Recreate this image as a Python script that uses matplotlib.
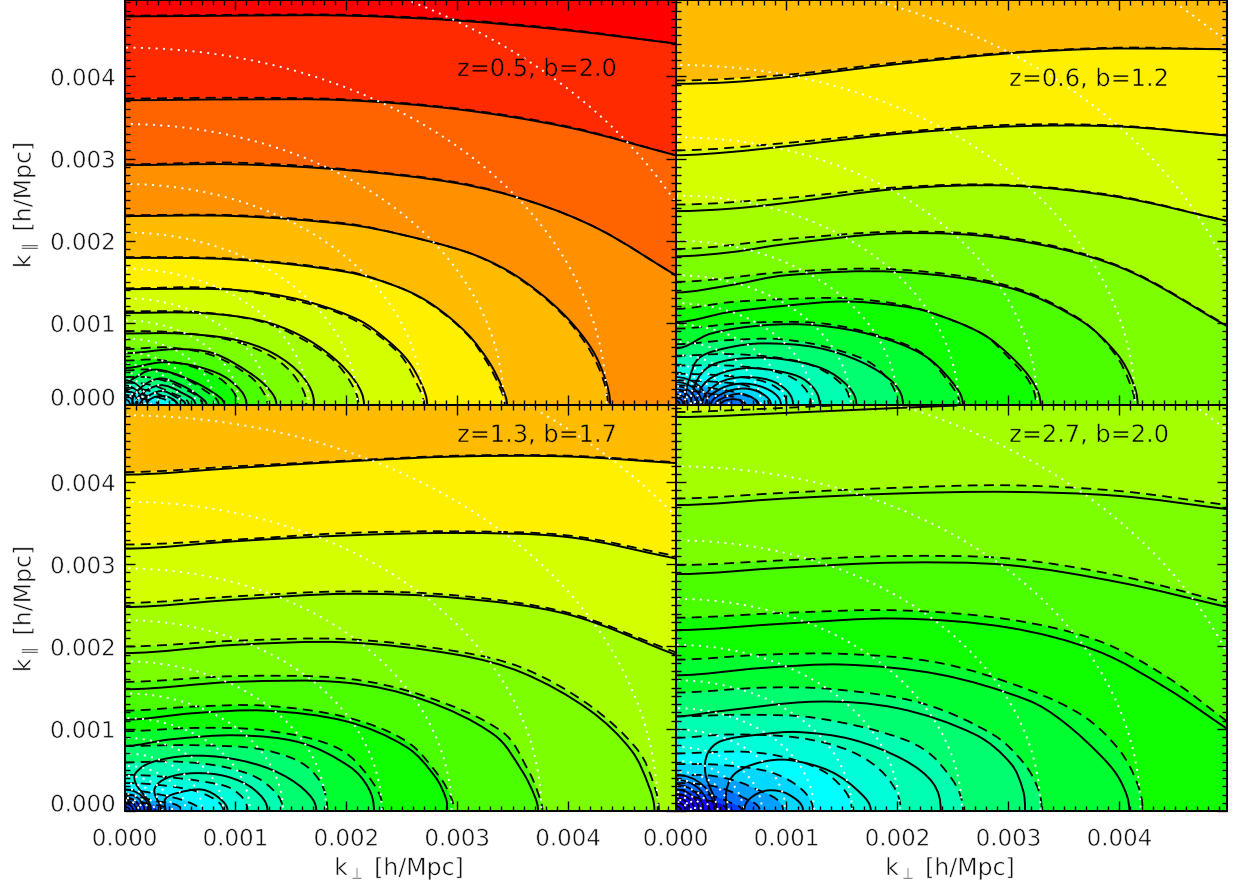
"""Four-panel 2D power spectrum contours, k_perp vs k_par.

Curves are read off the reference, in units of 1e-3 h/Mpc. Each curve is
(k_perp list, k_par list), listed from the outermost inwards.
"""
import numpy as np
import matplotlib
matplotlib.use("Agg")
import matplotlib.pyplot as plt
import matplotlib.patheffects as patheffects
from matplotlib.patches import PathPatch, Circle, Ellipse
from matplotlib.path import Path
from matplotlib.transforms import ScaledTranslation

W, H = 1237, 892
XMAX, YMAX = 4.97, 4.93

band_colors = ["#ff0000", "#ff2a00", "#ff6400", "#ff9000", "#ffbb00", "#fff000",
               "#d4ff00", "#a4ff00", "#7cff00", "#4cff00", "#10ff00", "#00ff30",
               "#00ff70", "#00ffb0", "#00ffd8", "#00ffff", "#00d8ff", "#00a0ff",
               "#0070ff", "#0040ff", "#1800ff", "#3000c0"]

tick_values = [0, 1, 2, 3, 4]
tick_labels = ["0.000", "0.001", "0.002", "0.003", "0.004"]

# ---- z=0.5, b=2.0
p1_label = "z=0.5, b=2.0"
p1_first_band = 0
p1_text_bg = "#ff2a00"
p1_dotted = [5.55, 4.35, 3.42, 2.69, 2.10, 1.66, 1.30, 1.03, 0.81, 0.64, 0.50,
             0.39, 0.31, 0.24, 0.19, 0.15, 0.12]
p1_inner_x = [0.20, 0.16, 0.12, 0.08, 0.05]
p1_inner_y = [0.30, 0.24, 0.18, 0.12, 0.07]
p1_solid = [
    ([0, 1, 2, 3, 4, 4.97], [4.73, 4.74, 4.74, 4.68, 4.56, 4.40]),
    ([0, 1, 2, 3, 4, 4.97], [3.71, 3.72, 3.71, 3.60, 3.38, 3.04]),
    ([0, 1, 2, 3, 3.68, 4.28, 4.97], [2.92, 2.93, 2.86, 2.70, 2.47, 2.14, 1.58]),
    ([0, 1, 2, 2.48, 3.09, 3.45, 3.74, 4.0, 4.22, 4.34, 4.38],
     [2.30, 2.30, 2.20, 2.08, 1.86, 1.64, 1.37, 1.05, 0.67, 0.30, 0]),
    ([0, 1, 2, 2.48, 2.78, 3.09, 3.29, 3.41, 3.45],
     [1.79, 1.77, 1.62, 1.43, 1.22, 0.87, 0.52, 0.20, 0]),
    ([0, 0.86, 1.28, 1.7, 2.12, 2.36, 2.55, 2.68, 2.73],
     [1.41, 1.41, 1.36, 1.24, 1.03, 0.80, 0.55, 0.25, 0]),
    ([0, 0.68, 1.22, 1.58, 1.88, 2.09, 2.16], [1.12, 1.12, 1.03, 0.85, 0.58, 0.27, 0]),
    ([0, 0.5, 0.98, 1.34, 1.61, 1.71], [0.87, 0.87, 0.80, 0.63, 0.34, 0]),
    ([0, 0.47, 0.8, 1.13, 1.31, 1.37], [0.63, 0.68, 0.63, 0.39, 0.18, 0]),
    ([0, 0.35, 0.68, 0.95, 1.1], [0.45, 0.52, 0.46, 0.30, 0]),
    ([0.05, 0.26, 0.53, 0.8, 0.9], [0.30, 0.43, 0.34, 0.15, 0]),
    ([0.07, 0.1, 0.3, 0.5, 0.68, 0.74], [0, 0.15, 0.32, 0.25, 0.10, 0]),
    ([0.1, 0.14, 0.32, 0.5, 0.64], [0, 0.12, 0.24, 0.16, 0]),
    ([0.14, 0.18, 0.33, 0.46, 0.55], [0, 0.08, 0.17, 0.10, 0]),
    ([0.2, 0.33, 0.47], [0, 0.11, 0]),
]
p1_dashed = [
    ([0, 1, 2, 3, 4, 4.97], [4.74, 4.75, 4.75, 4.69, 4.57, 4.40]),
    ([0, 1, 2, 3, 4, 4.97], [3.73, 3.74, 3.72, 3.61, 3.39, 3.04]),
    ([0, 1, 2, 3, 3.68, 4.28, 4.97], [2.93, 2.95, 2.87, 2.71, 2.47, 2.14, 1.58]),
    ([0, 1, 2, 2.48, 3.09, 3.45, 3.74, 4.0, 4.20, 4.32, 4.36],
     [2.31, 2.31, 2.21, 2.08, 1.86, 1.63, 1.36, 1.03, 0.66, 0.30, 0]),
    ([0, 1, 2, 2.48, 2.78, 3.09, 3.27, 3.39, 3.43],
     [1.80, 1.78, 1.63, 1.43, 1.21, 0.86, 0.52, 0.20, 0]),
    ([0, 0.86, 1.7, 2.12, 2.48, 2.64, 2.70], [1.42, 1.42, 1.22, 1.00, 0.62, 0.25, 0]),
    ([0, 0.68, 1.22, 1.58, 1.88, 2.05, 2.11], [1.14, 1.13, 1.02, 0.82, 0.55, 0.25, 0]),
    ([0, 0.5, 0.98, 1.34, 1.55, 1.64], [0.90, 0.88, 0.78, 0.58, 0.32, 0]),
    ([0, 0.4, 0.8, 1.13, 1.25, 1.29], [0.68, 0.70, 0.60, 0.35, 0.16, 0]),
    ([0, 0.3, 0.65, 0.9, 1.02], [0.54, 0.55, 0.45, 0.28, 0]),
    ([0, 0.25, 0.5, 0.72, 0.85], [0.42, 0.43, 0.35, 0.18, 0]),
    ([0, 0.25, 0.5, 0.70], [0.34, 0.33, 0.22, 0]),
    ([0, 0.22, 0.42, 0.58], [0.27, 0.25, 0.15, 0]),
    ([0, 0.2, 0.36, 0.48], [0.21, 0.18, 0.10, 0]),
    ([0, 0.18, 0.40], [0.16, 0.12, 0]),
    ([0, 0.15, 0.30], [0.12, 0.08, 0]),
]

# ---- z=0.6, b=1.2
p2_label = "z=0.6, b=1.2"
p2_first_band = 4
p2_text_bg = "#fff000"
p2_dotted = [6.65, 5.24, 4.14, 3.26, 2.55, 2.00, 1.58, 1.24, 0.98, 0.77, 0.61,
             0.48, 0.38, 0.30, 0.23, 0.18, 0.14, 0.11]
p2_inner_x = [0.29, 0.24, 0.19, 0.15, 0.11, 0.07, 0.04]
p2_inner_y = [0.34, 0.28, 0.23, 0.18, 0.13, 0.09, 0.05]
p2_solid = [
    ([0, 0.5, 1, 1.5, 2, 2.5, 3, 3.5, 4, 4.97], [3.91, 3.93, 3.99, 4.07, 4.15, 4.22, 4.28, 4.32, 4.34, 4.33]),
    ([0, 0.5, 1, 2, 3, 4, 4.97], [3.04, 3.08, 3.15, 3.30, 3.39, 3.39, 3.28]),
    ([0, 0.5, 1, 2, 3, 4, 4.97], [2.36, 2.39, 2.46, 2.63, 2.67, 2.53, 2.24]),
    ([0, 0.5, 1, 2, 3, 4, 4.97], [1.81, 1.86, 1.96, 2.09, 2.02, 1.68, 0.96]),
    ([0, 0.5, 1, 2, 3, 3.65, 3.98, 4.12, 4.165], [1.37, 1.46, 1.58, 1.62, 1.43, 1.03, 0.62, 0.28, 0]),
    ([0, 0.48, 1, 1.52, 2, 2.29, 2.76, 3.03, 3.22, 3.29],
     [1.01, 1.13, 1.21, 1.26, 1.21, 1.13, 0.87, 0.58, 0.28, 0]),
    ([0, 0.32, 0.79, 1.27, 1.78, 2.22, 2.48, 2.59], [0.69, 0.87, 0.97, 0.97, 0.85, 0.62, 0.30, 0]),
    ([0.08, 0.13, 0.22, 0.48, 0.79, 1.27, 1.68, 1.97, 2.05], [0, 0.34, 0.58, 0.70, 0.75, 0.70, 0.52, 0.26, 0]),
    ([0.14, 0.21, 0.35, 0.63, 0.95, 1.33, 1.56, 1.63], [0, 0.34, 0.50, 0.57, 0.56, 0.44, 0.22, 0]),
    ([0.19, 0.29, 0.57, 0.89, 1.17, 1.30], [0, 0.30, 0.44, 0.42, 0.30, 0]),
    ([0.24, 0.38, 0.63, 0.92, 1.06], [0, 0.26, 0.34, 0.26, 0]),
    ([0.27, 0.41, 0.63, 0.86, 0.95], [0, 0.20, 0.26, 0.17, 0]),
    ([0.32, 0.44, 0.63, 0.79, 0.86], [0, 0.15, 0.20, 0.13, 0]),
    ([0.36, 0.48, 0.62, 0.74], [0, 0.11, 0.13, 0]),
    ([0.41, 0.52, 0.63], [0, 0.07, 0]),
]
p2_dashed = [
    ([0, 1, 2, 3, 4, 4.97], [3.95, 4.02, 4.17, 4.29, 4.35, 4.33]),
    ([0, 1, 2, 3, 4, 4.97], [3.10, 3.19, 3.32, 3.41, 3.40, 3.28]),
    ([0, 1, 2, 3, 4, 4.97], [2.44, 2.52, 2.65, 2.68, 2.54, 2.24]),
    ([0, 1, 2, 3, 4, 4.97], [1.90, 2.02, 2.11, 2.04, 1.69, 0.97]),
    ([0, 1, 2, 3, 3.65, 3.96, 4.09, 4.14], [1.50, 1.62, 1.65, 1.45, 1.04, 0.62, 0.28, 0]),
    ([0, 0.48, 1, 1.52, 2, 2.29, 2.76, 3.00, 3.19, 3.25],
     [1.17, 1.25, 1.29, 1.30, 1.23, 1.13, 0.87, 0.58, 0.28, 0]),
    ([0, 0.63, 1.27, 1.71, 2.19, 2.45, 2.56], [0.93, 1.00, 1.00, 0.89, 0.66, 0.30, 0]),
    ([0, 0.48, 0.95, 1.43, 1.81, 2.00], [0.74, 0.79, 0.80, 0.68, 0.46, 0]),
    ([0, 0.48, 0.95, 1.27, 1.52, 1.57], [0.60, 0.62, 0.57, 0.46, 0.22, 0]),
    ([0, 0.48, 0.86, 1.11, 1.22], [0.48, 0.48, 0.42, 0.28, 0]),
    ([0, 0.41, 0.76, 0.95, 1.00], [0.38, 0.36, 0.30, 0.17, 0]),
    ([0, 0.38, 0.67, 0.84], [0.30, 0.28, 0.22, 0]),
    ([0, 0.35, 0.60, 0.75], [0.24, 0.20, 0.13, 0]),
    ([0, 0.3, 0.60], [0.18, 0.14, 0]),
]

# ---- z=1.3, b=1.7
p3_label = "z=1.3, b=1.7"
p3_first_band = 4
p3_text_bg = "#ffbb00"
p3_dotted = [6.13, 4.81, 3.76, 2.95, 2.32, 1.82, 1.43, 1.13, 0.89, 0.70, 0.55,
             0.43, 0.34, 0.27, 0.21, 0.16, 0.13]
p3_inner_x = [0.22, 0.18, 0.14, 0.11, 0.08, 0.05]
p3_inner_y = [0.26, 0.21, 0.17, 0.13, 0.09, 0.05]
p3_solid = [
    ([0, 1, 2, 3, 4, 4.97], [4.09, 4.17, 4.25, 4.31, 4.31, 4.23]),
    ([0, 1, 2, 3, 4, 4.97], [3.19, 3.28, 3.35, 3.38, 3.33, 3.07]),
    ([0, 1, 2, 3, 4, 4.97], [2.48, 2.57, 2.64, 2.59, 2.39, 1.90]),
    ([0, 1, 2, 3, 3.59, 4.19, 4.57, 4.73, 4.78], [1.92, 2.02, 2.05, 1.90, 1.68, 1.23, 0.74, 0.30, 0]),
    ([0, 1, 2, 2.7, 3.33, 3.58, 3.70, 3.73], [1.48, 1.57, 1.56, 1.35, 0.93, 0.50, 0.18, 0]),
    ([0, 0.63, 1.27, 2, 2.54, 2.80, 2.90, 2.91], [1.11, 1.19, 1.22, 1.09, 0.78, 0.42, 0.15, 0]),
    ([0, 0.41, 1.02, 1.59, 2.03, 2.20, 2.25], [0.79, 0.87, 0.92, 0.83, 0.54, 0.28, 0]),
    ([0.24, 0.10, 0.10, 0.24, 0.57, 0.95, 1.33, 1.62, 1.73],
     [0, 0.34, 0.46, 0.59, 0.67, 0.64, 0.50, 0.26, 0]),
    ([0.33, 0.27, 0.38, 0.63, 0.92, 1.17, 1.29], [0, 0.26, 0.40, 0.46, 0.42, 0.26, 0]),
    ([0.37, 0.37, 0.48, 0.70, 0.86, 0.93], [0, 0.15, 0.22, 0.26, 0.15, 0]),
]
p3_dashed = [
    ([0, 1, 2, 3, 4, 4.97], [4.12, 4.19, 4.26, 4.32, 4.32, 4.24]),
    ([0, 1, 2, 3, 4, 4.97], [3.24, 3.30, 3.38, 3.40, 3.35, 3.10]),
    ([0, 1, 2, 3, 4, 4.97], [2.53, 2.61, 2.67, 2.62, 2.41, 1.93]),
    ([0, 1, 2, 3, 3.59, 4.19, 4.63, 4.78, 4.82], [2.00, 2.07, 2.09, 1.94, 1.74, 1.29, 0.74, 0.30, 0]),
    ([0, 1, 2, 2.7, 3.4, 3.64, 3.74, 3.77], [1.57, 1.64, 1.61, 1.40, 0.97, 0.50, 0.18, 0]),
    ([0, 0.63, 1.27, 2, 2.54, 2.84, 2.95, 2.97], [1.22, 1.27, 1.28, 1.14, 0.85, 0.42, 0.15, 0]),
    ([0, 0.63, 1.27, 1.9, 2.20, 2.33], [0.97, 1.01, 0.98, 0.78, 0.42, 0]),
    ([0, 0.63, 1.27, 1.68, 1.83], [0.79, 0.80, 0.74, 0.50, 0]),
    ([0, 0.48, 0.95, 1.27, 1.43], [0.59, 0.60, 0.52, 0.34, 0]),
    ([0, 0.32, 0.70, 0.98, 1.11], [0.44, 0.42, 0.36, 0.26, 0]),
    ([0, 0.41, 0.73, 0.89], [0.34, 0.30, 0.20, 0]),
    ([0, 0.32, 0.57, 0.68], [0.26, 0.20, 0.11, 0]),
    ([0, 0.25, 0.51], [0.20, 0.13, 0]),
    ([0, 0.2, 0.38], [0.15, 0.09, 0]),
    ([0, 0.28], [0.10, 0]),
]

# ---- z=2.7, b=2.0
p4_label = "z=2.7, b=2.0"
p4_first_band = 6
p4_text_bg = "#a4ff00"
p4_dotted = [6.79, 5.33, 4.19, 3.29, 2.58, 2.02, 1.59, 1.25, 0.99, 0.78, 0.61,
             0.48, 0.38, 0.30, 0.23, 0.18, 0.14, 0.11]
p4_inner_x = [0.35, 0.30, 0.25, 0.21, 0.17, 0.13, 0.09, 0.05]
p4_inner_y = [0.44, 0.38, 0.32, 0.26, 0.21, 0.16, 0.11, 0.06]
p4_solid = [
    ([0, 1, 2, 2.54], [4.79, 4.84, 4.90, 4.93]),
    ([0, 1, 2, 3, 4, 4.97], [3.72, 3.80, 3.86, 3.88, 3.83, 3.67]),
    ([0, 1, 2, 3, 4, 4.97], [2.88, 2.96, 3.02, 2.99, 2.78, 2.48]),
    ([0, 1, 2, 3, 3.81, 4.44, 4.97], [2.20, 2.28, 2.34, 2.23, 1.94, 1.48, 1.00]),
    ([0, 0.79, 1.52, 2.38, 3.17, 3.49, 3.87, 4.02, 4.09], [1.65, 1.74, 1.78, 1.66, 1.35, 1.09, 0.62, 0.34, 0]),
    ([0, 0.38, 1.27, 2, 2.7, 3.02, 3.13, 3.15], [1.15, 1.21, 1.33, 1.25, 0.93, 0.58, 0.26, 0]),
    ([0.37, 0.27, 0.29, 0.41, 0.76, 1.10, 1.59, 2.06, 2.32, 2.39],
     [0, 0.45, 0.70, 0.85, 0.93, 0.96, 0.87, 0.62, 0.34, 0]),
    ([0.46, 0.46, 0.54, 0.76, 1.02, 1.40, 1.68, 1.76], [0, 0.26, 0.46, 0.59, 0.62, 0.48, 0.20, 0]),
    ([0.62, 0.67, 0.83, 1.02, 1.15], [0, 0.15, 0.25, 0.20, 0]),
]
p4_dashed = [
    ([0, 0.63, 1.27, 1.43], [4.85, 4.88, 4.92, 4.93]),
    ([0, 1, 2, 3, 4, 4.97], [3.80, 3.87, 3.93, 3.96, 3.89, 3.72]),
    ([0, 1, 2, 3, 4, 4.97], [2.99, 3.05, 3.10, 3.07, 2.86, 2.53]),
    ([0, 1, 2, 3, 3.81, 4.44, 4.97], [2.35, 2.41, 2.44, 2.33, 2.07, 1.62, 1.09]),
    ([0, 0.79, 1.52, 2.38, 3.17, 3.68, 4.0, 4.16, 4.21], [1.84, 1.90, 1.91, 1.80, 1.48, 1.15, 0.74, 0.34, 0]),
    ([0, 0.79, 1.43, 2.22, 2.86, 3.14, 3.27, 3.30], [1.44, 1.50, 1.48, 1.31, 0.93, 0.58, 0.26, 0]),
    ([0, 0.63, 1.27, 2.06, 2.38, 2.59], [1.15, 1.17, 1.13, 0.87, 0.58, 0]),
    ([0, 0.48, 1.11, 1.59, 1.90, 2.03], [0.89, 0.93, 0.89, 0.72, 0.42, 0]),
    ([0, 0.63, 1.05, 1.40, 1.59], [0.70, 0.72, 0.63, 0.42, 0]),
    ([0, 0.41, 0.86, 1.14, 1.24], [0.57, 0.56, 0.47, 0.26, 0]),
    ([0, 0.32, 0.67, 0.97], [0.43, 0.43, 0.30, 0]),
    ([0, 0.35, 0.60, 0.76], [0.34, 0.30, 0.17, 0]),
    ([0, 0.29, 0.48, 0.60], [0.26, 0.20, 0.11, 0]),
    ([0, 0.22, 0.46], [0.20, 0.15, 0]),
]


def smooth_path(xs, ys):
    """Bezier path through the read points, so the curves have no kinks."""
    pts = np.column_stack([xs, ys]) * 1e-3
    n = len(pts)
    verts = [pts[0]]
    codes = [Path.MOVETO]
    for i in range(n - 1):
        seg = np.linalg.norm(pts[i + 1] - pts[i])
        t0 = pts[i + 1] - pts[max(i - 1, 0)]
        t1 = pts[min(i + 2, n - 1)] - pts[i]
        t0 = t0 / max(np.linalg.norm(t0), 1e-12)
        t1 = t1 / max(np.linalg.norm(t1), 1e-12)
        h0 = h1 = seg / 3
        # contours meet the axes square on
        if i == 0 and ys[0] == 0:
            t0, h0 = np.array([0.0, 1.0]), seg * 0.4
        elif i == 0 and xs[0] == 0:
            t0 = np.array([1.0, 0.0])
        if i == n - 2 and ys[-1] == 0:
            t1, h1 = np.array([0.0, -1.0]), seg * 0.4
        verts += [pts[i] + t0 * h0, pts[i + 1] - t1 * h1, pts[i + 1]]
        codes += [Path.CURVE4] * 3
    return verts, codes


def thin(text, background):
    # the original labels are hairline vector glyphs; eat into the DejaVu outline
    text.set_path_effects([patheffects.Stroke(linewidth=0.4, foreground=background)])


def draw_panel(ax, first_band, dotted, inner_x, inner_y, solid, dashed):
    ax.set_facecolor(band_colors[first_band])

    # fill bands follow the dashed curves, painted outside to inside
    for i, (xs, ys) in enumerate(dashed):
        verts, codes = smooth_path(xs, ys)
        lo, hi = -1e-3, 6e-3
        last_y = ys[-1] * 1e-3
        verts += [(hi, last_y), (hi, lo), (lo, lo), (lo, ys[0] * 1e-3), verts[0]]
        codes += [Path.LINETO] * 4 + [Path.CLOSEPOLY]
        ax.add_patch(PathPatch(Path(verts, codes), facecolor=band_colors[first_band + i + 1],
                               edgecolor="none", lw=0, zorder=1))

    for xs, ys in dashed:
        verts, codes = smooth_path(xs, ys)
        ax.add_patch(PathPatch(Path(verts, codes), fill=False, edgecolor="black", lw=1.3,
                               ls=(0, (5.5, 3.5)), zorder=1.5))
    for xs, ys in solid:
        verts, codes = smooth_path(xs, ys)
        ax.add_patch(PathPatch(Path(verts, codes), fill=False, edgecolor="black", lw=1.4,
                               zorder=1.6))
    for rx, ry in zip(inner_x, inner_y):
        ax.add_patch(Ellipse((0, 0), 2e-3 * rx, 2e-3 * ry, fill=False, edgecolor="black",
                             lw=1.2, zorder=1.6))
    for r in dotted:
        ax.add_patch(Circle((0, 0), r * 1e-3, fill=False, edgecolor="white", lw=1.4,
                            ls=(0, (1, 2.8)), zorder=1.8))

    ax.set_xlim(0, XMAX * 1e-3)
    ax.set_ylim(0, YMAX * 1e-3)
    ax.set_axisbelow(False)
    ticks = np.array(tick_values) * 1e-3
    ax.set_xticks(ticks)
    ax.set_yticks(ticks)
    ax.set_xticks(np.arange(0, 50) * 1e-4, minor=True)
    ax.set_yticks(np.arange(0, 50) * 1e-4, minor=True)
    ax.tick_params(which="major", direction="in", top=True, right=True, length=7.4, width=1.0,
                   labelsize=16.5, labelcolor="#111111")
    ax.tick_params(which="minor", direction="in", top=True, right=True, length=3.8, width=1.0)
    ax.tick_params(axis="x", pad=12)
    ax.tick_params(axis="y", pad=6.5)
    for s in ax.spines.values():
        s.set_linewidth(1.4)


plt.rcParams["mathtext.default"] = "regular"
fig = plt.figure(figsize=(W / 100, H / 100), dpi=100)


def add_axes(left, right, top, bottom):
    return fig.add_axes([left / W, 1 - bottom / H, (right - left) / W, (bottom - top) / H])


panels = [
    (add_axes(124.5, 675.5, 0, 405), 537, 69, p1_label, p1_text_bg, p1_first_band, p1_dotted, p1_inner_x, p1_inner_y, p1_solid, p1_dashed),
    (add_axes(675.5, 1227, 0, 405), 1089, 79, p2_label, p2_text_bg, p2_first_band, p2_dotted, p2_inner_x, p2_inner_y, p2_solid, p2_dashed),
    (add_axes(124.5, 675.5, 405.5, 811), 537, 435, p3_label, p3_text_bg, p3_first_band, p3_dotted, p3_inner_x, p3_inner_y, p3_solid, p3_dashed),
    (add_axes(675.5, 1227, 405.5, 811), 1089, 435, p4_label, p4_text_bg, p4_first_band, p4_dotted, p4_inner_x, p4_inner_y, p4_solid, p4_dashed),
]

for idx, (ax, tx, ty, label, text_bg, first, dotted, ix, iy, solid, dashed) in enumerate(panels):
    draw_panel(ax, first, dotted, ix, iy, solid, dashed)
    thin(fig.text(tx / W, 1 - ty / H, label, fontsize=17.3, color="#000000",
                  ha="center", va="center"), text_bg)
    if idx >= 2:
        ax.set_xticklabels(tick_labels)
    else:
        ax.set_xticklabels([])
    if idx % 2 == 0:
        ax.set_yticklabels(tick_labels)
        # the zero label sits above the corner, as in the original
        zero = ax.get_yticklabels()[0]
        zero.set_transform(zero.get_transform() + ScaledTranslation(0, 8.5 / 100, fig.dpi_scale_trans))
    else:
        ax.set_yticklabels([])
    for t in ax.get_xticklabels() + ax.get_yticklabels():
        thin(t, "white")

for py in (205, 609):
    thin(fig.text(25 / W, 1 - py / H, r"k$_{\parallel}$ [h/Mpc]", rotation=90, fontsize=17,
                  color="#111111", ha="center", va="center"), "white")
for px in (399, 950):
    thin(fig.text(px / W, 1 - 868 / H, r"k$_{\perp}$ [h/Mpc]", fontsize=17,
                  color="#111111", ha="center", va="center"), "white")

fig.savefig("out.png", dpi=100)
